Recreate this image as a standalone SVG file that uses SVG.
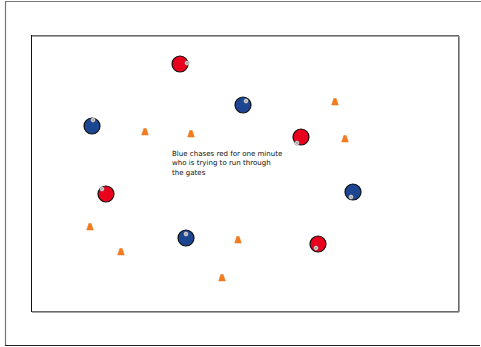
<svg xmlns="http://www.w3.org/2000/svg" width="481" height="347" viewBox="0 0 481 347">
<defs>
<style>
.red{fill:#e8001c;stroke:#111;stroke-width:1.2}
.blue{fill:#1c4592;stroke:#111;stroke-width:1.2}
.ball{fill:#f2f2f2;stroke:#777;stroke-width:0.6}
.cone{fill:#f47c20;stroke:#e8741a;stroke-width:0.5}
.lbl{font-family:"DejaVu Sans",sans-serif;font-size:7.05px;fill:#111}
</style>
<g id="cone"><path d="M-3.3,3 L-1.2,-3.5 L1.2,-3.5 L3.3,3 Z" class="cone"/></g>
<g id="b"><circle r="2.2" class="ball"/><circle r="0.8" fill="#555"/></g>
</defs>
<rect width="481" height="347" fill="#fff"/>
<g id="frame" fill="none">
<path d="M5.5,346 L5.5,1.5 L481,1.5" stroke="#777" stroke-width="1.2"/>
<path d="M5,345.5 L480,345.5" stroke="#222" stroke-width="1.2"/>
<rect x="31.5" y="35.5" width="427" height="276" stroke="#111" stroke-width="1"/>
<path d="M32,36 L459,36 M459,36 L459,312 M32,312 L459,312" stroke="#888" stroke-width="1.5"/>
</g>
<g id="red1"><circle cx="180" cy="64" r="8" class="red"/><use href="#b" x="187" y="63"/></g>
<g id="red2"><circle cx="301" cy="137" r="8" class="red"/><use href="#b" x="297" y="143"/></g>
<g id="red3"><circle cx="106" cy="194" r="8" class="red"/><use href="#b" x="102" y="189"/></g>
<g id="red4"><circle cx="318" cy="244" r="8" class="red"/><use href="#b" x="316" y="248"/></g>
<g id="blue1"><circle cx="92" cy="126" r="8" class="blue"/><use href="#b" x="93" y="120"/></g>
<g id="blue2"><circle cx="243" cy="105" r="8" class="blue"/><use href="#b" x="246" y="101"/></g>
<g id="blue3"><circle cx="353" cy="192" r="8" class="blue"/><use href="#b" x="351" y="197"/></g>
<g id="blue4"><circle cx="186" cy="238" r="8" class="blue"/><use href="#b" x="186" y="234"/></g>
<g id="cones">
<use href="#cone" x="145" y="132"/>
<use href="#cone" x="191" y="134"/>
<use href="#cone" x="335" y="102"/>
<use href="#cone" x="345" y="139"/>
<use href="#cone" x="90" y="227"/>
<use href="#cone" x="121" y="252"/>
<use href="#cone" x="238" y="240"/>
<use href="#cone" x="222" y="278"/>
</g>
<g id="label">
<text class="lbl" x="172" y="156">Blue chases red for one minute</text>
<text class="lbl" x="172" y="165">who is trying to run through</text>
<text class="lbl" x="172" y="175">the gates</text>
</g>
</svg>
